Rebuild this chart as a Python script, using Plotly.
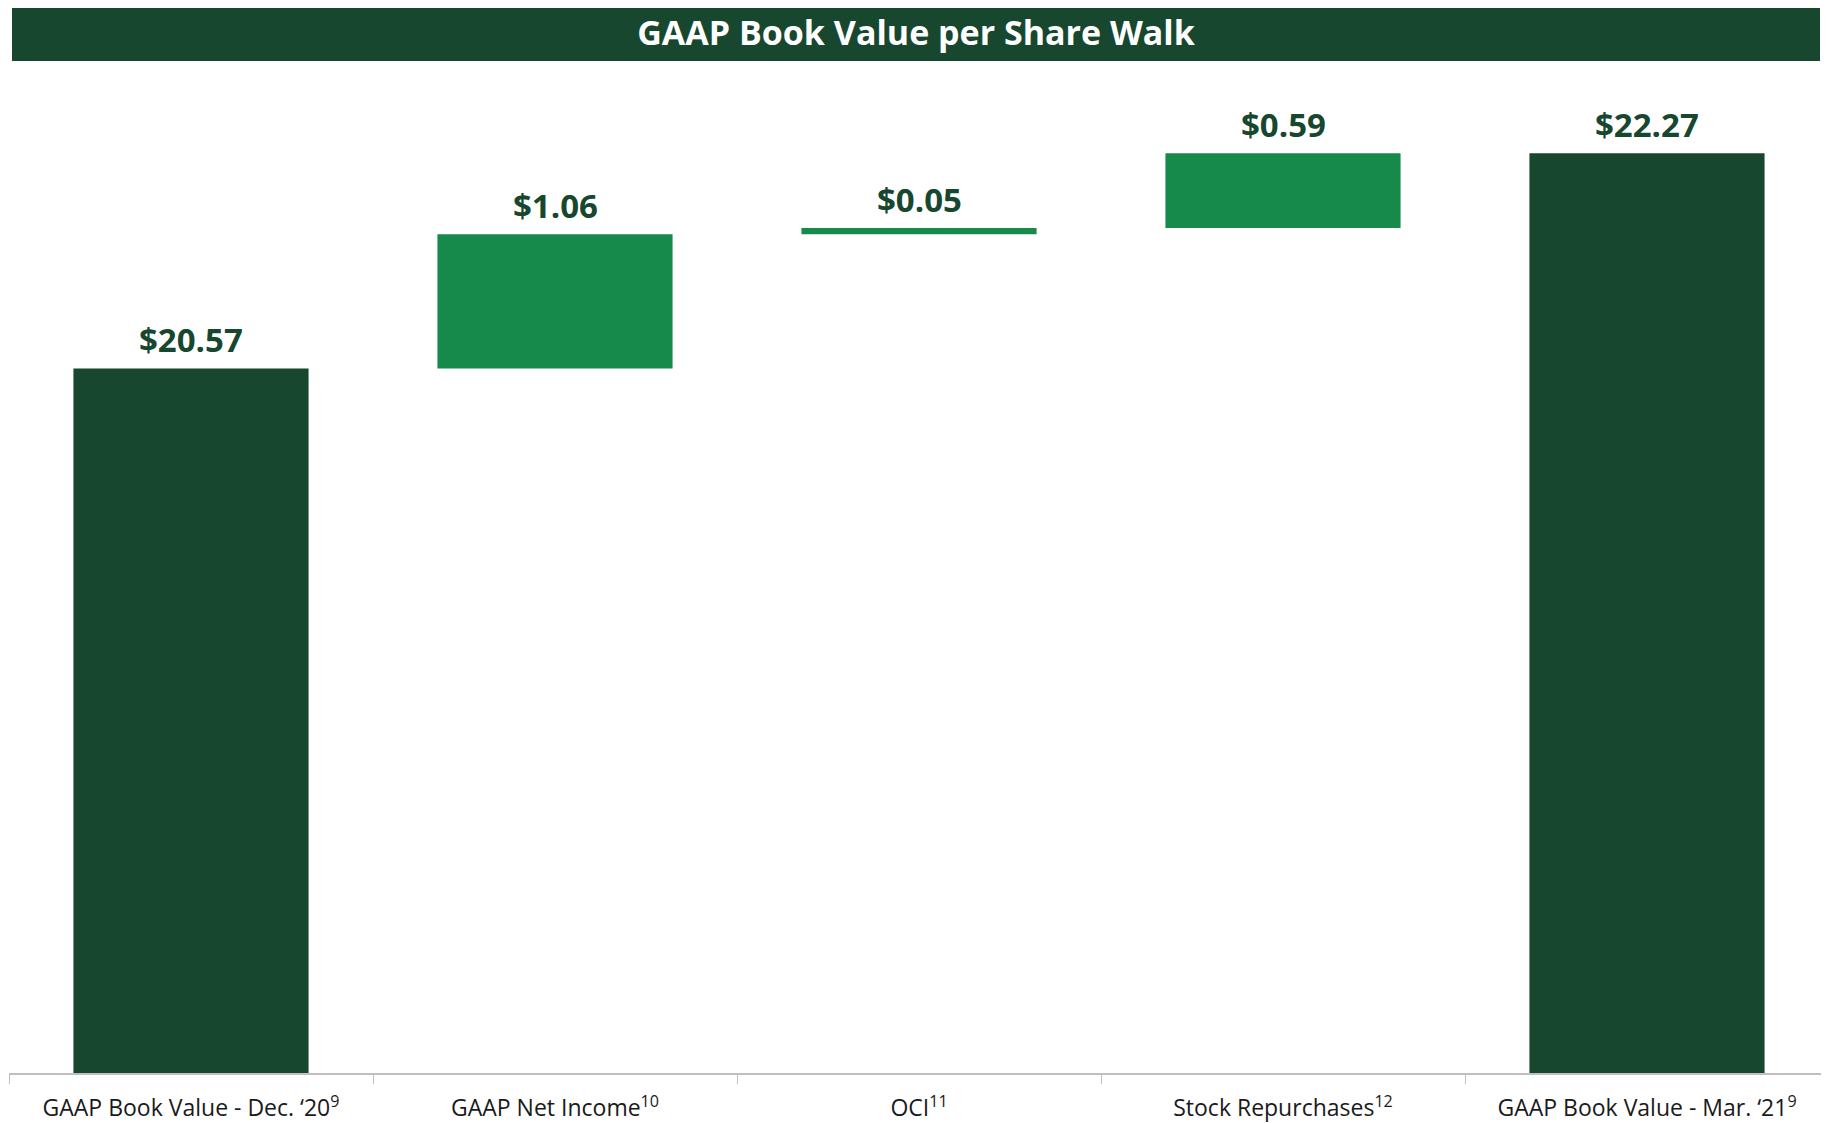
import plotly.graph_objects as go

categories = [
    "GAAP Book Value - Dec. \u201820<sup>9</sup>",
    "GAAP Net Income<sup>10</sup>",
    "OCI<sup>11</sup>",
    "Stock Repurchases<sup>12</sup>",
    "GAAP Book Value - Mar. \u201821<sup>9</sup>",
]
values = [20.57, 1.06, 0.05, 0.59, 22.27]
measures = ["absolute", "relative", "relative", "relative", "total"]
value_labels = ["$20.57", "$1.06", "$0.05", "$0.59", "$22.27"]

DARK = "#17472F"
BRIGHT = "#158A4A"
FONT = "Open Sans"

# page has an 8px body margin; compensate so the figure fills the window
OFF = 8
W, H = 1829 - OFF, 1123 - OFF
ML, MR, MT, MB = 9 - OFF, 0, 80 - OFF, 50
px_per_unit = 126.5
y_min = 15
y_max = y_min + (H - MT - MB) / px_per_unit

fig = go.Figure(go.Waterfall(
    x=categories,
    y=[v if m != "total" else 0 for v, m in zip(values, measures)],
    measure=measures,
    base=0,
    increasing=dict(marker=dict(color=BRIGHT, line=dict(width=0))),
    decreasing=dict(marker=dict(color=BRIGHT, line=dict(width=0))),
    totals=dict(marker=dict(color=DARK, line=dict(width=0))),
    connector=dict(visible=False),
    text=value_labels,
    textposition="none",
    hoverinfo="skip",
))

tops = []
run = 0
for v, m in zip(values, measures):
    if m == "absolute":
        run = v
    elif m == "relative":
        run += v
    tops.append(run)

for cat, top, lab in zip(categories, tops, value_labels):
    fig.add_annotation(
        x=cat, y=top, text=f"<b>{lab}</b>", showarrow=False,
        yanchor="bottom", yshift=4,
        font=dict(family=FONT, size=33, color=DARK),
    )

plot_h = H - MT - MB
plot_w = W - ML - MR
fig.add_shape(
    type="rect", xref="paper", yref="paper", layer="below",
    x0=(12 - 9) / plot_w, x1=(1820 - 9) / plot_w,
    y0=(H - MB - (61 - OFF)) / plot_h, y1=(H - MB - (6 - OFF)) / plot_h,
    fillcolor=DARK, line=dict(width=0),
)

fig.update_layout(
    width=W, height=H,
    margin=dict(l=ML, r=MR, t=MT, b=MB, pad=0),
    paper_bgcolor="white", plot_bgcolor="white",
    showlegend=False,
    waterfallgap=0.354,
    title=dict(
        text="<b>GAAP Book Value per Share Walk</b>",
        x=(916 - OFF) / W, xanchor="center", xref="container",
        y=1 - (33.5 - OFF) / H, yanchor="middle", yref="container",
        font=dict(family=FONT, size=34, color="white"),
    ),
    xaxis=dict(
        showline=True, linecolor="#BFBFBF", linewidth=1.5,
        ticks="outside", tickson="boundaries", ticklen=9,
        tickcolor="#BFBFBF", tickwidth=1.2,
        ticklabelstandoff=14,
        tickfont=dict(family=FONT, size=23, color="#1A1A1A"),
        showgrid=False, fixedrange=True,
    ),
    yaxis=dict(
        range=[y_min, y_max], visible=False, showgrid=False, fixedrange=True,
    ),
)

fig.write_html("out.html")
